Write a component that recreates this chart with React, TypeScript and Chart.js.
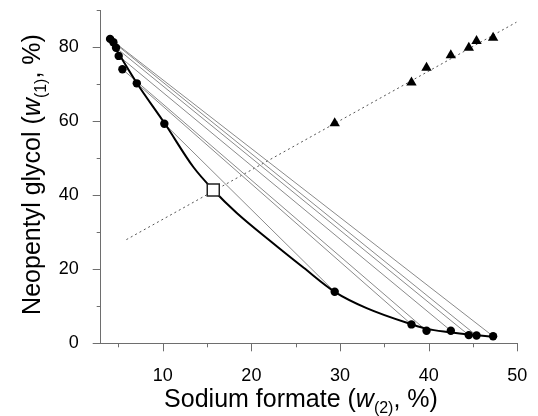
import React, { useEffect, useRef } from 'react';
import { Chart, registerables } from 'chart.js';

Chart.register(...registerables);

// Binodal data: glycol-rich (top) phase and salt-rich (bottom) phase
const topX = [4.06, 4.43, 4.73, 5.03, 5.45, 7.07, 10.18];
const topY = [82.2, 81.3, 79.8, 77.6, 74.0, 70.2, 59.3];
const botX = [47.27, 45.4, 44.53, 42.5, 39.76, 38.06, 29.4];
const botY = [1.9, 2.1, 2.2, 3.4, 3.4, 5.1, 13.9];
// Correlation points (triangles): x of bottom phase vs y of top phase
const triX = [47.27, 45.4, 44.53, 42.5, 39.76, 38.06, 29.4];
const triY = [82.5, 81.6, 79.8, 77.8, 74.4, 70.4, 59.4];
// Plait point
const plaitX = [15.7];
const plaitY = [41.4];
// Fitted binodal curve
const fitX = [4.06, 4.62, 7.07, 10.27, 13.45, 15.7, 18.35, 22.1, 25.9, 29.4, 33.0, 38.1, 39.8, 42.4, 44.5, 47.3];
const fitY = [82.2, 79.9, 70.3, 59.2, 47.6, 41.4, 35.2, 27.7, 20.4, 13.9, 9.5, 5.1, 3.9, 3.0, 2.4, 1.8];
// Dotted correlation line end points
const corrX = [5.9, 49.9];
const corrY = [28.0, 86.7];

const xMin = 3, xMax = 50, yMin = 0, yMax = 90;
const xTicks = [5, 10, 15, 20, 25, 30, 35, 40, 45, 50];
const xMajor = [10, 20, 30, 40, 50];
const yTicks = [0, 10, 20, 30, 40, 50, 60, 70, 80, 90];
const yMajor = [0, 20, 40, 60, 80];

const FONT = "'Liberation Sans', Arial, sans-serif";
const AXIS_COLOR = '#6e6e6e';

type Seg = { t: string; f: string; dy: number };

function drawSegs(ctx: CanvasRenderingContext2D, segs: Seg[], cx: number, baseY: number) {
  let total = 0;
  for (const s of segs) {
    ctx.font = s.f;
    total += ctx.measureText(s.t).width;
  }
  let x = cx - total / 2;
  ctx.textBaseline = 'alphabetic';
  ctx.textAlign = 'left';
  for (const s of segs) {
    ctx.font = s.f;
    ctx.fillText(s.t, x, baseY + s.dy);
    x += ctx.measureText(s.t).width;
  }
}

const decorPlugin = {
  id: 'decor',
  afterDraw(chart: any) {
    const ctx: CanvasRenderingContext2D = chart.ctx;
    const xs = chart.scales.x;
    const ys = chart.scales.y;
    const area = chart.chartArea;
    ctx.save();
    ctx.strokeStyle = AXIS_COLOR;
    ctx.lineWidth = 1;
    ctx.beginPath();
    for (const v of xTicks) {
      const px = Math.round(xs.getPixelForValue(v)) + 0.5;
      const len = xMajor.includes(v) ? 8 : 4;
      ctx.moveTo(px, area.bottom);
      ctx.lineTo(px, area.bottom + len);
    }
    for (const v of yTicks) {
      const py = Math.round(ys.getPixelForValue(v)) + 0.5;
      const len = yMajor.includes(v) ? 8 : 4;
      ctx.moveTo(area.left, py);
      ctx.lineTo(area.left - len, py);
    }
    ctx.stroke();

    ctx.fillStyle = '#000';
    const big = `25px ${FONT}`;
    const ital = `italic 25px ${FONT}`;
    const sub = `16px ${FONT}`;
    drawSegs(ctx, [
      { t: 'Sodium formate (', f: big, dy: 0 },
      { t: 'w', f: ital, dy: 0 },
      { t: '(2)', f: sub, dy: 6 },
      { t: ', %)', f: big, dy: 0 },
    ], 301, 407);

    ctx.translate(40, 174.5);
    ctx.rotate(-Math.PI / 2);
    drawSegs(ctx, [
      { t: 'Neopentyl glycol (', f: big, dy: 0 },
      { t: 'w', f: ital, dy: 0 },
      { t: '(1)', f: sub, dy: 6 },
      { t: ', %)', f: big, dy: 0 },
    ], 0, 0);
    ctx.restore();
  },
};

export default function App() {
  const ref = useRef<HTMLCanvasElement | null>(null);

  useEffect(() => {
    if (!ref.current) return;

    const tieSets = topX.map((x, i) => ({
      type: 'line' as const,
      data: [{ x, y: topY[i] }, { x: botX[i], y: botY[i] }],
      borderColor: '#8a8a8a',
      borderWidth: 1,
      pointRadius: 0,
      showLine: true,
      fill: false,
      order: 4,
    }));

    const chart = new Chart(ref.current, {
      type: 'scatter',
      data: {
        datasets: [
          {
            type: 'line',
            data: corrX.map((x, i) => ({ x, y: corrY[i] })),
            borderColor: '#555',
            borderWidth: 1,
            borderDash: [2, 3],
            pointRadius: 0,
            fill: false,
            order: 5,
          } as any,
          ...tieSets,
          {
            type: 'line',
            data: fitX.map((x, i) => ({ x, y: fitY[i] })),
            borderColor: '#000',
            borderWidth: 2,
            pointRadius: 0,
            cubicInterpolationMode: 'monotone',
            fill: false,
            order: 3,
          } as any,
          {
            data: [...topX.map((x, i) => ({ x, y: topY[i] })), ...botX.map((x, i) => ({ x, y: botY[i] }))],
            backgroundColor: '#000',
            borderColor: '#000',
            pointStyle: 'circle',
            pointRadius: 4.2,
            borderWidth: 0,
            order: 2,
          },
          {
            data: triX.map((x, i) => ({ x, y: triY[i] })),
            backgroundColor: '#000',
            borderColor: '#000',
            pointStyle: 'triangle',
            pointRadius: 6,
            borderWidth: 0,
            order: 2,
          },
          {
            data: plaitX.map((x, i) => ({ x, y: plaitY[i] })),
            backgroundColor: '#fff',
            borderColor: '#222',
            pointStyle: 'rect',
            pointRadius: 8.5,
            borderWidth: 1.5,
            order: 1,
          },
        ],
      },
      options: {
        animation: false,
        responsive: false,
        layout: { padding: { left: 0, right: 20.7, top: 7.3, bottom: 0 } },
        plugins: { legend: { display: false }, tooltip: { enabled: false } },
        scales: {
          x: {
            type: 'linear',
            min: xMin,
            max: xMax,
            grid: { display: false },
            border: { display: true, color: AXIS_COLOR, width: 1 },
            ticks: {
              stepSize: 5,
              autoSkip: false,
              maxRotation: 0,
              padding: 14,
              color: '#000',
              font: { family: FONT, size: 18 },
              callback: (v: any) => (xMajor.includes(Number(v)) ? String(v) : ''),
            },
            afterFit: (s: any) => { s.height = 72.7; s.paddingLeft = 0; s.paddingRight = 0; },
          },
          y: {
            type: 'linear',
            min: yMin,
            max: yMax,
            grid: { display: false },
            border: { display: true, color: AXIS_COLOR, width: 1 },
            ticks: {
              stepSize: 10,
              autoSkip: false,
              padding: 14,
              color: '#000',
              font: { family: FONT, size: 18 },
              callback: (v: any) => (yMajor.includes(Number(v)) ? String(v) : ''),
            },
            afterFit: (s: any) => { s.width = 100.7; s.paddingTop = 0; s.paddingBottom = 0; },
          },
        },
      },
      plugins: [decorPlugin],
    });

    return () => chart.destroy();
  }, []);

  return (
    <div style={{ position: 'fixed', left: 0, top: 0, width: 538, height: 416, background: '#fff' }}>
      <canvas ref={ref} width={538} height={416} />
    </div>
  );
}
